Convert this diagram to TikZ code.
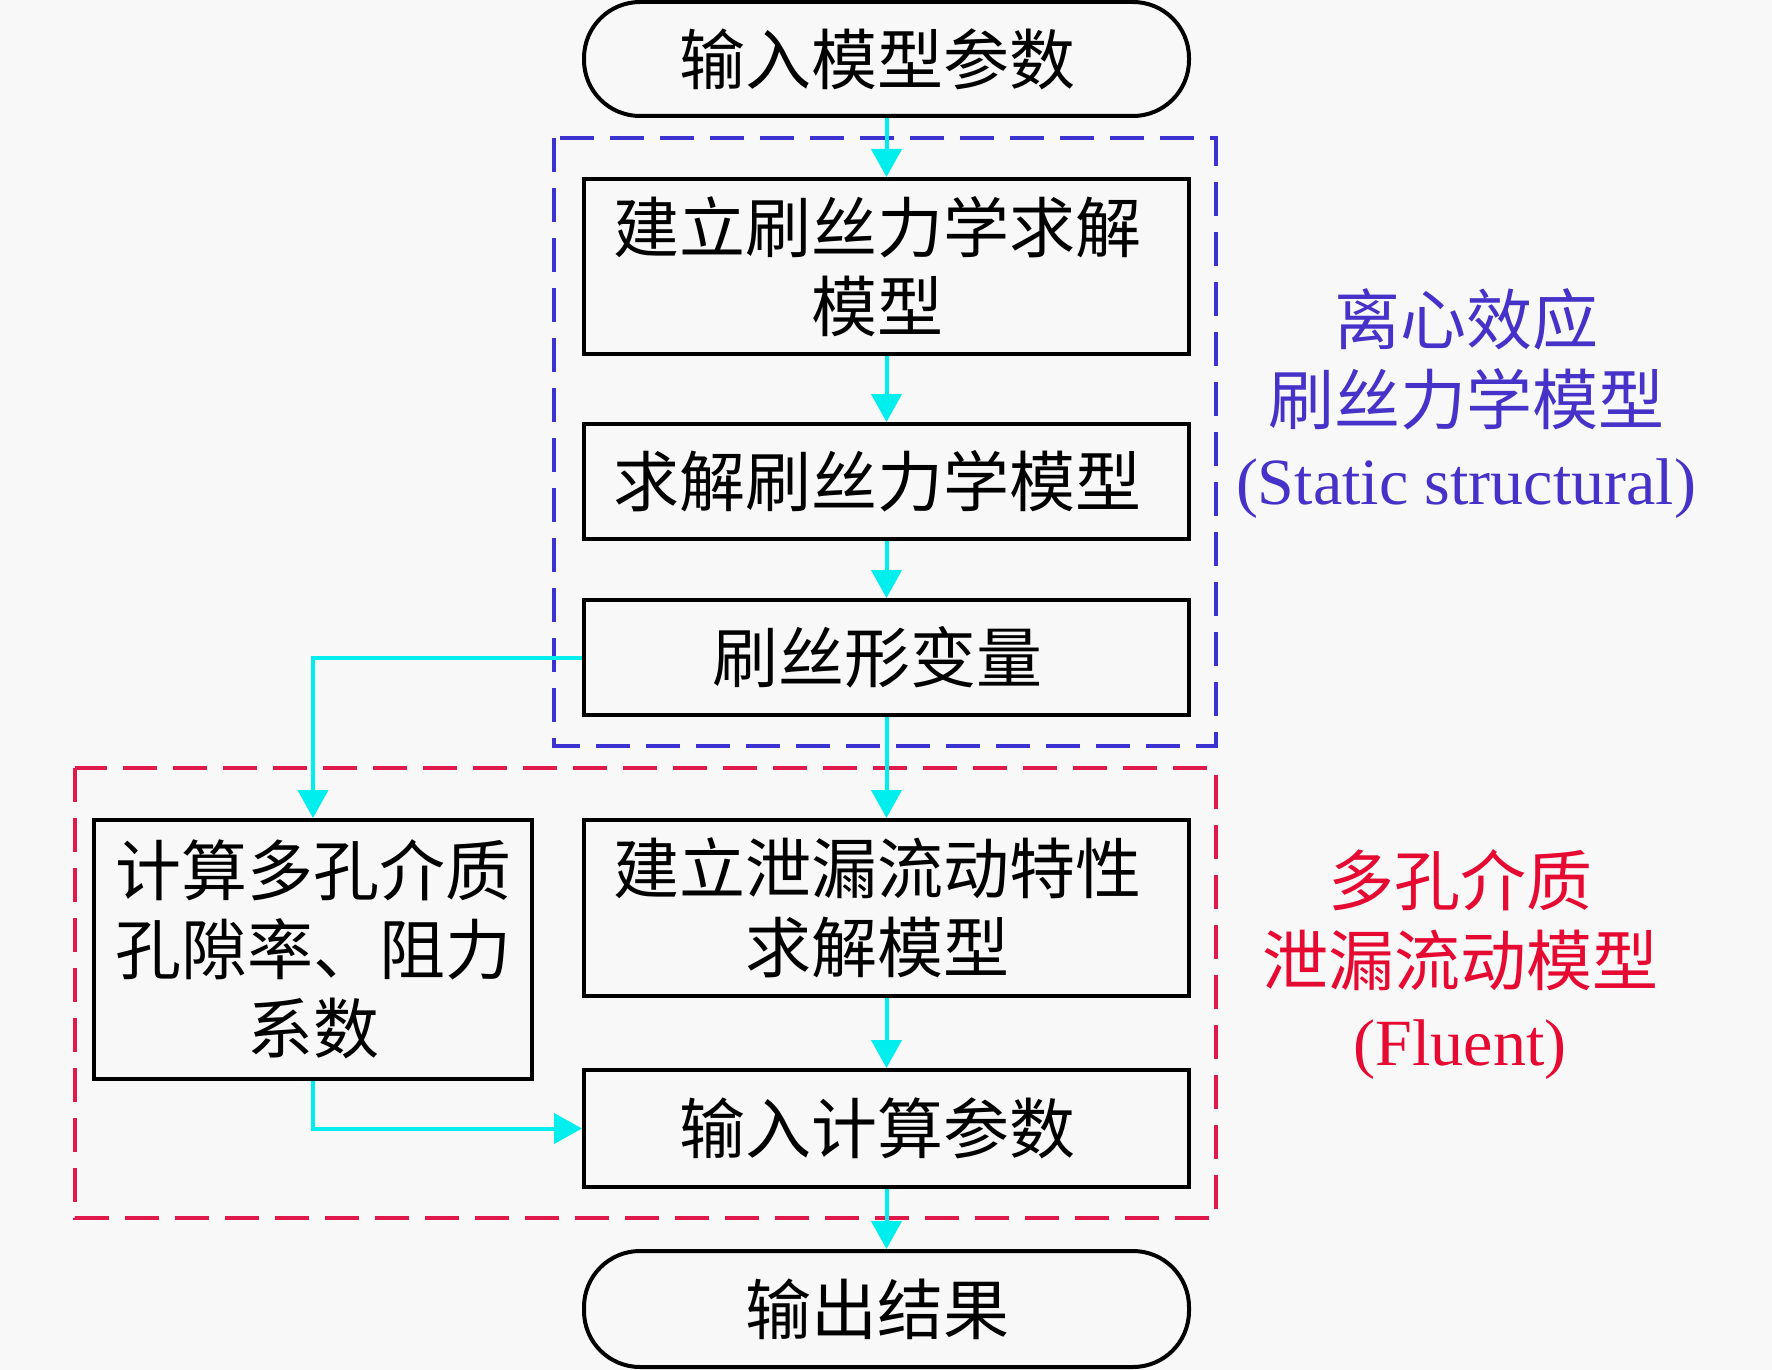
\documentclass[tikz,border=0pt]{standalone}
\usepackage{fontspec}
\setmainfont{Liberation Serif}
\newfontfamily\cjk{Noto Sans CJK SC}
\usetikzlibrary{arrows.meta}
\definecolor{bg}{RGB}{248,248,248}
\definecolor{arrowc}{RGB}{0,238,238}
\definecolor{blued}{RGB}{60,50,210}
\definecolor{redd}{RGB}{225,25,75}
\definecolor{bluet}{RGB}{70,50,200}
\definecolor{redt}{RGB}{230,10,50}
\newcommand{\rpad}{\hspace*{18pt}}
\begin{document}
\begin{tikzpicture}[x=1pt,y=-1pt,
  box/.style={draw=black, line width=4pt, minimum width=605pt, inner sep=0pt,
    align=center, font=\fontsize{66}{79}\selectfont\cjk},
  term/.style={box, rounded corners=56pt},
  arr/.style={draw=arrowc, line width=4pt, -{Triangle[width=30pt,length=28pt]}},
  grp/.style={line width=3.5pt, dash pattern=on 34pt off 16pt},
  lbl/.style={align=center, inner sep=0pt, font=\fontsize{66}{80}\selectfont}
]
\fill[bg] (0,0) rectangle (1772,1370);
\useasboundingbox (0,0) rectangle (1772,1370);

% group frames
\draw[grp, blued] (554,138) rectangle (1216,746);
\draw[grp, redd] (75,768) rectangle (1216,1218);

% nodes
\node[term, minimum height=114pt] (t1) at (886.5,59) {输入模型参数\rpad};
\node[box, minimum height=175pt] (b1) at (886.5,266.5) {建立刷丝力学求解\rpad\\模型\rpad};
\node[box, minimum height=115pt] (b2) at (886.5,481.5) {求解刷丝力学模型\rpad};
\node[box, minimum height=115pt] (b3) at (886.5,657.5) {刷丝形变量\rpad};
\node[box, minimum height=176pt] (b4) at (886.5,908) {建立泄漏流动特性\rpad\\求解模型\rpad};
\node[box, minimum height=117pt] (b5) at (886.5,1128.5) {输入计算参数\rpad};
\node[term, minimum height=116pt] (t2) at (886.5,1309) {输出结果\rpad};
\node[box, minimum width=438pt, minimum height=259pt] (bl) at (313,949.5) {计算多孔介质\\孔隙率、阻力\\系数};

% labels
\node[lbl, text=bluet] (l1) at (1466,404) {{\cjk 离心效应}\\{\cjk 刷丝力学模型}\\(Static structural)};
\node[lbl, text=redt] (l2) at (1460,965) {{\cjk 多孔介质}\\{\cjk 泄漏流动模型}\\(Fluent)};

% connectors
\draw[arr] (t1.south) -- (b1.north);
\draw[arr] (b1.south) -- (b2.north);
\draw[arr] (b2.south) -- (b3.north);
\draw[arr] (b3.south) -- (b4.north);
\draw[arr] (b4.south) -- (b5.north);
\draw[arr] (b5.south) -- (t2.north);
\draw[arr] (b3.west) -| (bl.north);
\draw[arr] (bl.south) |- (b5.west);
\end{tikzpicture}
\end{document}
